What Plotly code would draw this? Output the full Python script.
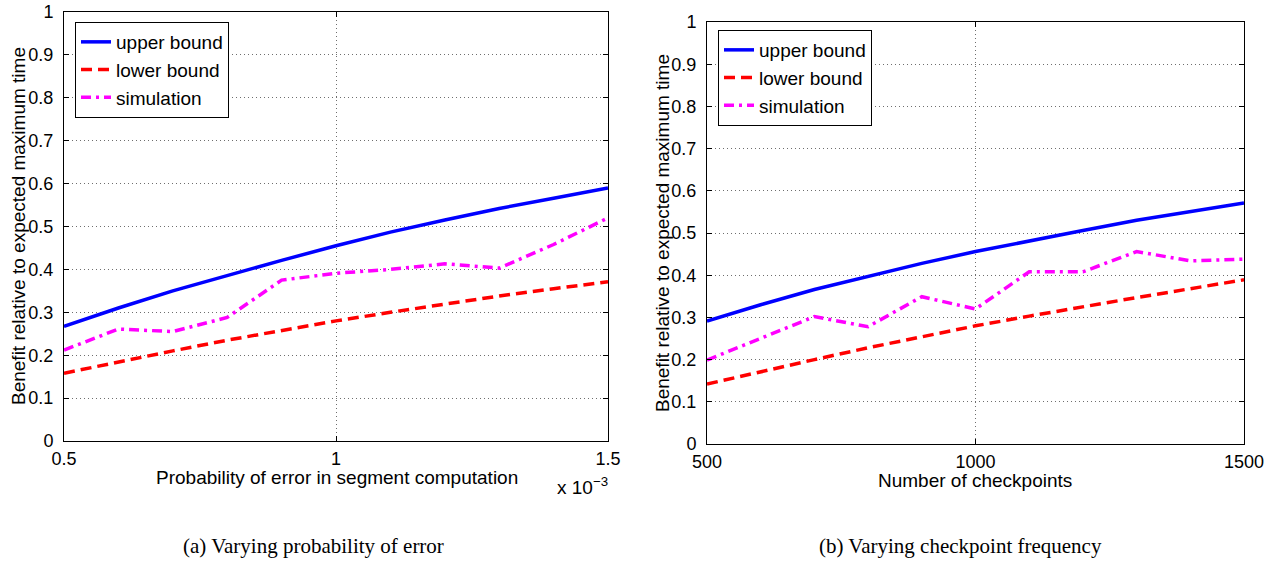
import plotly.graph_objects as go

# ---- data -------------------------------------------------------------
# (a) varying probability of error
prob_error = [0.0005, 0.0006, 0.0007, 0.0008, 0.0009, 0.0010,
              0.0011, 0.0012, 0.0013, 0.0014, 0.0015]
upper_a = [0.267, 0.310, 0.350, 0.386, 0.421, 0.455, 0.487, 0.515, 0.542, 0.566, 0.590]
lower_a = [0.158, 0.185, 0.210, 0.235, 0.258, 0.280, 0.300, 0.320, 0.338, 0.355, 0.371]
sim_a = [0.212, 0.261, 0.255, 0.288, 0.375, 0.391, 0.400, 0.413, 0.403, 0.458, 0.520]

# (b) varying checkpoint frequency
checkpoints = [500, 600, 700, 800, 900, 1000, 1100, 1200, 1300, 1400, 1500]
upper_b = [0.291, 0.330, 0.366, 0.398, 0.428, 0.456, 0.482, 0.506, 0.530, 0.551, 0.571]
lower_b = [0.142, 0.172, 0.200, 0.228, 0.254, 0.280, 0.303, 0.326, 0.347, 0.368, 0.389]
sim_b = [0.199, 0.250, 0.302, 0.278, 0.349, 0.320, 0.408, 0.408, 0.456, 0.434, 0.438]

series_names = ["upper bound", "lower bound", "simulation"]
y_ticks = [0, 0.1, 0.2, 0.3, 0.4, 0.5, 0.6, 0.7, 0.8, 0.9, 1]
x_ticks_a = [0.0005, 0.0010, 0.0015]
x_ticklabels_a = ["0.5", "1", "1.5"]
x_ticks_b = [500, 1000, 1500]

W, H = 1276, 561
FONT = "Liberation Sans, Arial, Helvetica, sans-serif"
SERIF = "Liberation Serif, Times New Roman, serif"

styles = [
    dict(color="#0000FF", width=3.5, dash="solid"),
    dict(color="#FF0000", width=3.5, dash="11px,6px"),
    dict(color="#FF00FF", width=3.5, dash="10px,5px,3px,5px"),
]

fig = go.Figure()

for ys, st, nm in zip([upper_a, lower_a, sim_a], styles, series_names):
    fig.add_trace(go.Scatter(x=prob_error, y=ys, mode="lines", name=nm, line=st,
                             xaxis="x", yaxis="y", legend="legend"))
for ys, st, nm in zip([upper_b, lower_b, sim_b], styles, series_names):
    fig.add_trace(go.Scatter(x=checkpoints, y=ys, mode="lines", name=nm, line=st,
                             xaxis="x2", yaxis="y2", legend="legend2"))


def px_x(p):
    return p / W


def px_y(p):
    return 1 - p / H


axis_common = dict(
    showline=True, linecolor="black", linewidth=1, mirror="ticks",
    ticks="inside", ticklen=5, tickcolor="black",
    showgrid=True, gridcolor="#6e6e6e", gridwidth=1, griddash="1px,3px",
    zeroline=False, automargin=False,
    tickfont=dict(family=FONT, size=18, color="black"),
)

# plot-area boxes (left, right, top, bottom) in pixels
left_box = (64, 608, 12, 441)
right_box = (707, 1244, 22, 444)

legend_common = dict(xanchor="left", yanchor="top", bgcolor="white",
                     bordercolor="black", borderwidth=1, tracegroupgap=0,
                     font=dict(family=FONT, size=19, color="black"))

fig.update_layout(
    width=W, height=H,
    margin=dict(l=0, r=0, t=0, b=0, autoexpand=False),
    paper_bgcolor="white", plot_bgcolor="white",
    font=dict(family=FONT, size=19, color="black"),
    xaxis=dict(axis_common, domain=[px_x(left_box[0]), px_x(left_box[1])],
               range=[0.0005, 0.0015], tickvals=x_ticks_a, ticktext=x_ticklabels_a,
               anchor="y", ticklabelstandoff=1),
    yaxis=dict(axis_common, domain=[px_y(left_box[3]), px_y(left_box[2])],
               range=[0, 1], tickvals=y_ticks, anchor="x", ticklabelstandoff=6),
    xaxis2=dict(axis_common, domain=[px_x(right_box[0]), px_x(right_box[1])],
                range=[500, 1500], tickvals=x_ticks_b, anchor="y2", ticklabelstandoff=1),
    yaxis2=dict(axis_common, domain=[px_y(right_box[3]), px_y(right_box[2])],
                range=[0, 1], tickvals=y_ticks, anchor="x2", ticklabelstandoff=6),
    legend=dict(legend_common, x=px_x(75), y=px_y(22)),
    legend2=dict(legend_common, x=px_x(718), y=px_y(30)),
    showlegend=True,
)

annotations = [
    # axis titles
    dict(text="Probability of error in segment computation", x=px_x(337), y=px_y(477)),
    dict(text="x 10<sup>\u22123</sup>", x=px_x(582), y=px_y(486)),
    dict(text="Number of checkpoints", x=px_x(975), y=px_y(480)),
    dict(text="Benefit relative to expected maximum time", x=px_x(18), y=px_y(226),
         textangle=-90),
    dict(text="Benefit relative to expected maximum time", x=px_x(663), y=px_y(233),
         textangle=-90),
]
for a in annotations:
    fig.add_annotation(xref="paper", yref="paper", showarrow=False,
                       xanchor="center", yanchor="middle",
                       font=dict(family=FONT, size=19, color="black"), **a)

# sub-figure captions
for txt, cx in [("(a) Varying probability of error", 313),
                ("(b) Varying checkpoint frequency", 960)]:
    fig.add_annotation(xref="paper", yref="paper", showarrow=False,
                       x=px_x(cx), y=px_y(546), xanchor="center", yanchor="middle",
                       text=txt, font=dict(family=SERIF, size=21, color="black"))

fig.write_html("out.html")
